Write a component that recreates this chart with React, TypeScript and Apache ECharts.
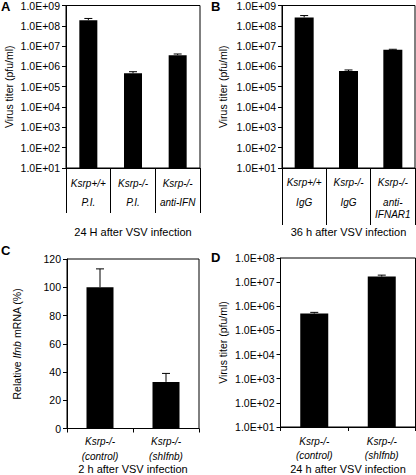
import React, { useEffect, useRef } from "react";
import * as echarts from "echarts";

// ---- Data ----
const categoriesA = ["Ksrp+/+\nP.I.", "Ksrp-/-\nP.I.", "Ksrp-/-\nanti-IFN"];
const valuesA = [1.9e8, 4.6e5, 3.6e6];
const errorsA = [0.4e8, 0.9e5, 0.5e6];

const categoriesB = ["Ksrp+/+\nIgG", "Ksrp-/-\nIgG", "Ksrp-/-\nanti-\nIFNAR1"];
const valuesB = [2.6e8, 5.9e5, 6.6e6];
const errorsB = [0.6e8, 0.8e5, 0.4e6];

const categoriesC = ["Ksrp-/-\n(control)", "Ksrp-/-\n(shIfnb)"];
const valuesC = [100, 33];
const errorsC = [13, 6];

const categoriesD = ["Ksrp-/-\n(control)", "Ksrp-/-\n(shIfnb)"];
const valuesD = [5.0e5, 1.7e7];
const errorsD = [0.6e5, 0.25e7];

const captionA = "24 H after VSV infection";
const captionB = "36 h after VSV infection";
const captionC = "2 h after VSV infection";
const captionD = "24 h after VSV infection";
const titerName = "Virus titer (pfu/ml)";

const FONT = '"Liberation Sans", Arial, Helvetica, sans-serif';

function sciLabel(v: number) {
  const e = Math.round(Math.log10(v));
  return "1.0E+" + (e < 10 ? "0" : "") + e;
}

function errRender(cap: number) {
  return (params: any, api: any) => {
    const x = api.value(0);
    const lo = api.coord([x, api.value(1)]);
    const hi = api.coord([x, api.value(2)]);
    const st = { stroke: "#000", lineWidth: 1 };
    return {
      type: "group",
      children: [
        { type: "line", shape: { x1: lo[0], y1: lo[1], x2: hi[0], y2: hi[1] }, style: st },
        { type: "line", shape: { x1: hi[0] - cap / 2, y1: hi[1], x2: hi[0] + cap / 2, y2: hi[1] }, style: st },
      ],
    };
  };
}

function tableLabel(aLH: number, bLH: number) {
  return {
    interval: 0,
    color: "#000",
    fontFamily: FONT,
    formatter: (v: string) => {
      const parts = v.split("\n");
      return parts.map((p, i) => (i === 0 ? `{a|${p}}` : `{b|${p}}`)).join("\n");
    },
    rich: {
      a: { fontStyle: "italic", fontSize: 10, lineHeight: aLH, fontFamily: FONT, color: "#000" },
      b: { fontStyle: "italic", fontSize: 10, lineHeight: bLH, fontFamily: FONT, color: "#000" },
    },
  };
}

const axisLineStyle = { show: true, lineStyle: { color: "#000", width: 1 } };

export default function App() {
  const ref = useRef<HTMLDivElement>(null);
  useEffect(() => {
    if (!ref.current) return;
    const chart = echarts.init(ref.current, undefined, { renderer: "svg" });
    const nameStyle = { fontSize: 10.5, fontFamily: FONT, color: "#000" };
    const capStyle = { fontSize: 11, fontFamily: FONT, color: "#000", verticalAlign: "middle" };
    const yLabel = { fontSize: 10.5, fontFamily: FONT, color: "#000", margin: 6 };
    const option: any = {
      animation: false,
      textStyle: { fontFamily: FONT },
      grid: [
        { left: 66, top: 5, width: 134, height: 163, show: true, borderColor: "#000", borderWidth: 1 },
        { left: 282, top: 5, width: 133, height: 163, show: true, borderColor: "#000", borderWidth: 1 },
        { left: 67, top: 259, width: 132, height: 171, show: true, borderColor: "#000", borderWidth: 1 },
        { left: 280.5, top: 258, width: 135, height: 172, show: true, borderColor: "#000", borderWidth: 1 },
      ],
      xAxis: [
        {
          type: "category", gridIndex: 0, data: categoriesA,
          axisLine: axisLineStyle,
          axisTick: { show: true, length: 45, interval: 0, lineStyle: { color: "#000" } },
          axisLabel: { ...tableLabel(26, 12), margin: 2 },
          name: captionA, nameLocation: "middle", nameGap: 64, nameMoveOverlap: false, nameTextStyle: capStyle,
        },
        {
          type: "category", gridIndex: 1, data: categoriesB,
          axisLine: axisLineStyle,
          axisTick: { show: true, length: 57, interval: 0, lineStyle: { color: "#000" } },
          axisLabel: { ...tableLabel(27, 12), margin: 1 },
          name: captionB, nameLocation: "middle", nameGap: 64, nameMoveOverlap: false, nameTextStyle: capStyle,
        },
        {
          type: "category", gridIndex: 2, data: categoriesC,
          axisLine: axisLineStyle,
          axisTick: { show: true, length: 4, interval: 0, lineStyle: { color: "#000" } },
          axisLabel: { ...tableLabel(14.5, 14.5), margin: 6 },
          name: captionC, nameLocation: "middle", nameGap: 40, nameMoveOverlap: false, nameTextStyle: capStyle,
        },
        {
          type: "category", gridIndex: 3, data: categoriesD,
          axisLine: axisLineStyle,
          axisTick: { show: true, length: 4, interval: 0, lineStyle: { color: "#000" } },
          axisLabel: { ...tableLabel(14.5, 14.5), margin: 7 },
          name: captionD, nameLocation: "middle", nameGap: 41.5, nameMoveOverlap: false, nameTextStyle: capStyle,
        },
      ],
      yAxis: [
        {
          type: "log", logBase: 10, gridIndex: 0, min: 10, max: 1e9,
          axisLine: axisLineStyle, splitLine: { show: false },
          axisTick: { show: true, length: 4, lineStyle: { color: "#000" } },
          axisLabel: { ...yLabel, formatter: sciLabel },
          name: titerName, nameLocation: "middle", nameGap: 52, nameTextStyle: nameStyle,
        },
        {
          type: "log", logBase: 10, gridIndex: 1, min: 10, max: 1e9,
          axisLine: axisLineStyle, splitLine: { show: false },
          axisTick: { show: true, length: 4, lineStyle: { color: "#000" } },
          axisLabel: { ...yLabel, formatter: sciLabel },
          name: titerName, nameLocation: "middle", nameGap: 54, nameTextStyle: nameStyle,
        },
        {
          type: "value", gridIndex: 2, min: 0, max: 120, interval: 20,
          axisLine: axisLineStyle, splitLine: { show: false },
          axisTick: { show: true, length: 4, lineStyle: { color: "#000" } },
          axisLabel: { ...yLabel },
          name: "{n|Relative }{i|Ifnb}{n| mRNA (%)}", nameLocation: "middle", nameGap: 45,
          nameTextStyle: {
            ...nameStyle,
            rich: {
              n: { fontSize: 10.5, fontFamily: FONT, color: "#000" },
              i: { fontSize: 10.5, fontFamily: FONT, color: "#000", fontStyle: "italic" },
            },
          },
        },
        {
          type: "log", logBase: 10, gridIndex: 3, min: 10, max: 1e8,
          axisLine: axisLineStyle, splitLine: { show: false },
          axisTick: { show: true, length: 4, lineStyle: { color: "#000" } },
          axisLabel: { ...yLabel, formatter: sciLabel },
          name: titerName, nameLocation: "middle", nameGap: 52, nameTextStyle: nameStyle,
        },
      ],
      series: [
        { type: "bar", xAxisIndex: 0, yAxisIndex: 0, data: valuesA, barWidth: 18, itemStyle: { color: "#000" }, clip: true },
        { type: "bar", xAxisIndex: 1, yAxisIndex: 1, data: valuesB, barWidth: 19, itemStyle: { color: "#000" }, clip: true },
        { type: "bar", xAxisIndex: 2, yAxisIndex: 2, data: valuesC, barWidth: 27, itemStyle: { color: "#000" }, clip: true },
        { type: "bar", xAxisIndex: 3, yAxisIndex: 3, data: valuesD, barWidth: 28, itemStyle: { color: "#000" }, clip: true },
        {
          type: "custom", xAxisIndex: 0, yAxisIndex: 0, renderItem: errRender(8),
          data: valuesA.map((v, i) => [i, v, v + errorsA[i]]), encode: { x: 0, y: [1, 2] }, z: 3,
        },
        {
          type: "custom", xAxisIndex: 1, yAxisIndex: 1, renderItem: errRender(8),
          data: valuesB.map((v, i) => [i, v, v + errorsB[i]]), encode: { x: 0, y: [1, 2] }, z: 3,
        },
        {
          type: "custom", xAxisIndex: 2, yAxisIndex: 2, renderItem: errRender(8),
          data: valuesC.map((v, i) => [i, v, v + errorsC[i]]), encode: { x: 0, y: [1, 2] }, z: 3,
        },
        {
          type: "custom", xAxisIndex: 3, yAxisIndex: 3, renderItem: errRender(8),
          data: valuesD.map((v, i) => [i, v, v + errorsD[i]]), encode: { x: 0, y: [1, 2] }, z: 3,
        },
      ],
      graphic: [
        { type: "text", left: 1, top: 0, style: { text: "A", font: `bold 13px ${FONT}`, fill: "#000" } },
        { type: "text", left: 211, top: 0, style: { text: "B", font: `bold 13px ${FONT}`, fill: "#000" } },
        { type: "text", left: 1, top: 244, style: { text: "C", font: `bold 13px ${FONT}`, fill: "#000" } },
        { type: "text", left: 211, top: 251, style: { text: "D", font: `bold 13px ${FONT}`, fill: "#000" } },
      ],
    };
    chart.setOption(option);
    return () => chart.dispose();
  }, []);
  return (
    <div
      ref={ref}
      style={{ position: "absolute", left: 0, top: 0, width: 416, height: 475, background: "#fff" }}
    />
  );
}
